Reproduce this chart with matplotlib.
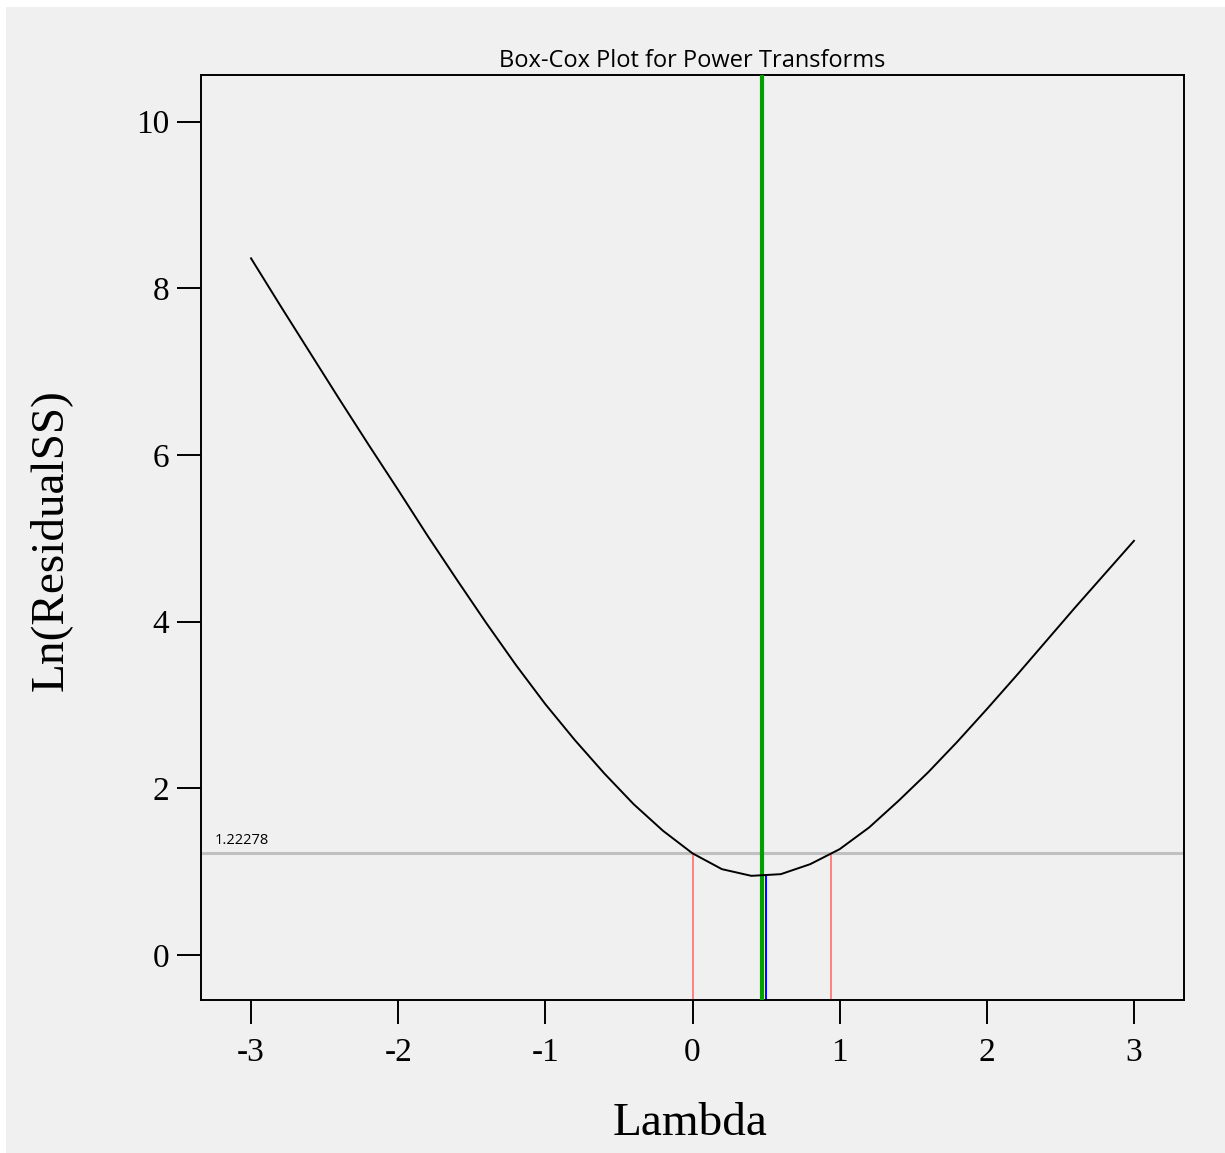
import matplotlib

matplotlib.use("Agg")
import matplotlib.pyplot as plt
from matplotlib.patches import Rectangle

# Box-Cox curve
lambdas = [-3.0, -2.8, -2.6, -2.4, -2.2, -2.0, -1.8, -1.6, -1.4, -1.2, -1.0,
           -0.8, -0.6, -0.4, -0.2, 0.0, 0.2, 0.4, 0.6, 0.8, 1.0,
           1.2, 1.4, 1.6, 1.8, 2.0, 2.2, 2.4, 2.6, 2.8, 3.0]
ln_rss = [8.36, 7.79, 7.23, 6.67, 6.12, 5.58, 5.03, 4.50, 3.98, 3.48, 3.01,
          2.58, 2.18, 1.81, 1.49, 1.22, 1.03, 0.95, 0.97, 1.09, 1.27,
          1.53, 1.85, 2.19, 2.56, 2.95, 3.35, 3.76, 4.17, 4.57, 4.97]

threshold = 1.22278
ci_low, ci_high = 0.0, 0.94
lambda_best = 0.47
lambda_rec = 0.50
curve_min = 0.96

xticks = [-3, -2, -1, 0, 1, 2, 3]
yticks = [0, 2, 4, 6, 8, 10]

bg = "#f0f0f0"
fig = plt.figure(figsize=(12.25, 11.53), dpi=100, facecolor="white")
fig.patches.append(Rectangle((6 / 1225, 0), 1, 1 - 7 / 1153, transform=fig.transFigure,
                             facecolor=bg, edgecolor="none", zorder=-10))
ax = fig.add_axes([201 / 1225, 1 - 1000 / 1153, 983 / 1225, 925 / 1153])
ax.set_zorder(1)
ax.set_facecolor(bg)

ax.set_xlim(-3.34, 3.34)
ax.set_ylim(-0.54, 10.56)

ax.axhline(threshold, color="#c0c0c0", linewidth=2.2, zorder=1)
ax.vlines([ci_low, ci_high], -0.54, threshold, color="#ff8080", linewidth=1.4, zorder=2)
ax.vlines(lambda_rec, -0.54, curve_min, color="#0000ff", linewidth=1.4, zorder=2)
ax.axvline(lambda_best, color="#00a000", linewidth=3.0, zorder=3)
ax.plot(lambdas, ln_rss, color="black", linewidth=1.4, zorder=4)

ax.text(-3.245, threshold + 0.06, f"{threshold:.5f}", fontsize=10.5,
        family="Open Sans", va="bottom", ha="left")

ax.set_xticks(xticks)
ax.set_xticklabels([str(v) for v in xticks])
ax.set_yticks(yticks)
ax.set_yticklabels([str(v) for v in yticks])
ax.tick_params(direction="out", length=17, width=1.4,
               labelsize=24, labelfontfamily="Liberation Serif")
ax.tick_params(axis="x", pad=10)
ax.tick_params(axis="y", pad=6)
for s in ax.spines.values():
    s.set_linewidth(1.4)

ax.set_title("Box-Cox Plot for Power Transforms", family="Open Sans", fontsize=17, pad=6)
fig.text(690 / 1225, 1 - 1135 / 1153, "Lambda", family="Liberation Serif",
         fontsize=34, ha="center", va="baseline")
fig.text(50 / 1225, 1 - 540 / 1153, "Ln(ResidualSS)", family="Liberation Serif",
         fontsize=34, ha="center", va="center", rotation=90)

fig.savefig("out.png", dpi=100, facecolor=fig.get_facecolor())
